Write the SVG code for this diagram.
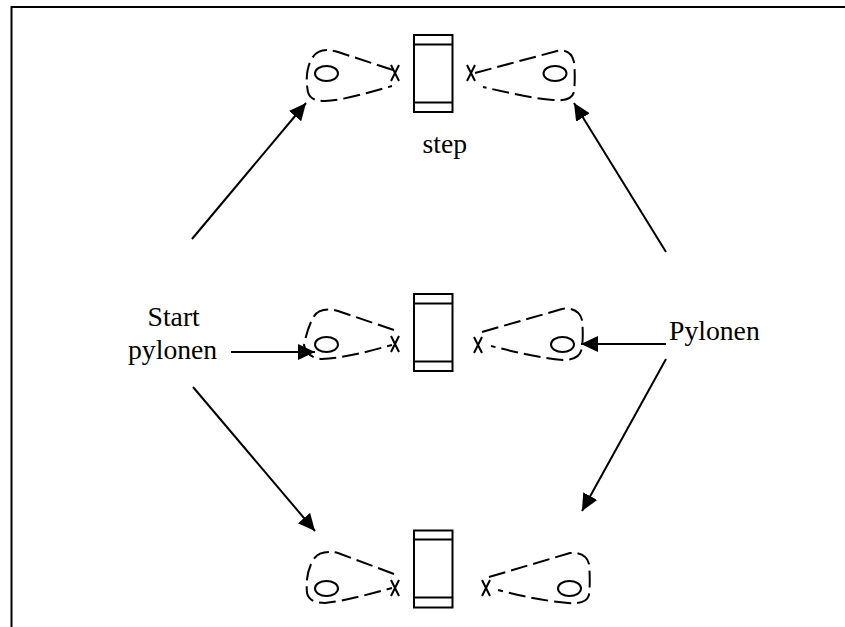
<svg xmlns="http://www.w3.org/2000/svg" width="845" height="627" viewBox="0 0 845 627">
<style>
.b{fill:none;stroke:#000;stroke-width:2}
.d{fill:none;stroke:#000;stroke-width:2;stroke-dasharray:17 6}
.r{fill:#fff;stroke:#000;stroke-width:2}
.t{font-family:"Liberation Serif","Times New Roman",serif;font-size:27.700px;fill:#000}
.a{fill:none;stroke:#000;stroke-width:2;marker-end:url(#ah)}
</style>
<defs>
<marker id="ah" markerUnits="userSpaceOnUse" markerWidth="19" markerHeight="19" refX="17" refY="9" orient="auto"><path d="M0 1L17 9L0 17Z" fill="#000"/></marker>
<g id="x"><path class="b" d="M-4 -8L4 8M4 -8L-4 8"/></g>
</defs>
<rect width="845" height="627" fill="#fff"/>
<g id="frame"><path class="b" d="M845 7H11.500V627"/></g>
<g id="node-top">
<path class="r" d="M414 35H452.500V112H414Z"/><path class="b" d="M414 44.500H452.500M414 102.500H452.500"/>
<path class="d" d="M393 70L338 52C325 48 316 50 311 60C306 70 306 82 308 92C310 100 318 101 325 101C345 100 370 92 392 86"/>
<ellipse class="b" cx="326.500" cy="73.500" rx="11.500" ry="7.500"/><use href="#x" x="395" y="73"/>
<path class="d" d="M475 73L557 51C566 49 572 53 574 62C575 72 575 82 574 92C572 99 566 101 553 100C530 98 505 92 483 87"/>
<ellipse class="b" cx="555" cy="73.500" rx="11.500" ry="7.500"/><use href="#x" x="471" y="73"/>
</g>
<g id="node-middle">
<path class="r" d="M414 294H452.500V371H414Z"/><path class="b" d="M414 303.500H452.500M414 361.500H452.500"/>
<path class="d" d="M394 330L338 311C325 307 316 311 313 318C309 325 306 335 304 345C306 355 315 359 322 359C345 358 370 351 392 345"/>
<ellipse class="b" cx="326.500" cy="344.500" rx="11.500" ry="7.500"/><use href="#x" x="395" y="344"/>
<path class="d" d="M482 332L562 309C572 307 580 312 582 320C583 330 583 340 582 347C581 355 577 360 563 360C540 358 515 352 491 346"/>
<ellipse class="b" cx="562.500" cy="344.500" rx="11.500" ry="7.500"/><use href="#x" x="478" y="345"/>
</g>
<g id="node-bottom">
<path class="r" d="M414 530.500H452.500V607.500H414Z"/><path class="b" d="M414 539.500H452.500M414 597.500H452.500"/>
<path class="d" d="M394 574L338 553C325 550 316 553 312 562C307 572 306 582 307 593C309 601 316 603 325 603C345 601 370 594 392 588"/>
<ellipse class="b" cx="326.500" cy="588.500" rx="11.500" ry="7.500"/><use href="#x" x="395" y="588"/>
<path class="d" d="M489 577L570 553C580 552 587 556 589 564C590 575 590 585 589 595C587 602 580 604 568 603C545 601 520 596 498 590"/>
<ellipse class="b" cx="569.500" cy="588.500" rx="11.500" ry="7.500"/><use href="#x" x="486" y="588"/>
</g>
<g id="connectors">
<path class="a" d="M192 239L306 103"/>
<path class="a" d="M666 252L574 103"/>
<path class="a" d="M231 352H315"/>
<path class="a" d="M666 344H581"/>
<path class="a" d="M666 359L582 511"/>
<path class="a" d="M193 387L315 531"/>
</g>
<g id="labels">
<text class="t" x="422.500" y="153">step</text>
<text class="t" x="147.500" y="325.500">Start</text>
<text class="t" x="128" y="359">pylonen</text>
<text class="t" x="669" y="339.500">Pylonen</text>
</g>
</svg>
